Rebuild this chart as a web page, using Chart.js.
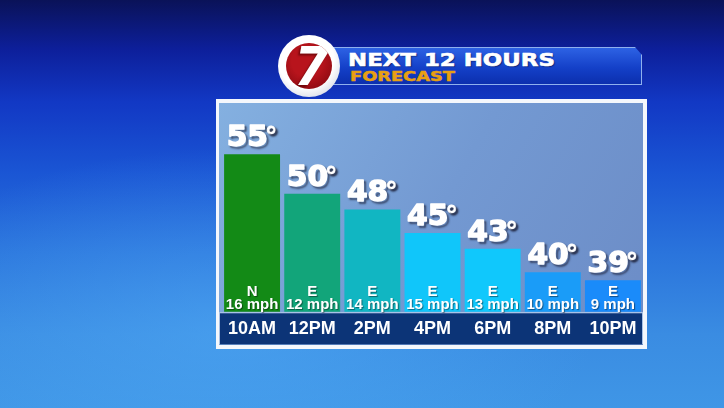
<!DOCTYPE html>
<html>
<head>
<meta charset="utf-8">
<script src="https://cdn.jsdelivr.net/npm/chart.js@4"></script>
<style>
    html, body { margin: 0; padding: 0; }
    body {
        width: 724px; height: 408px; overflow: hidden; position: relative;
        background:
            radial-gradient(ellipse 520px 260px at 230px 330px, rgba(80,170,245,0.55), rgba(80,170,245,0) 70%),
            linear-gradient(180deg, #0a1258 0%, #0d1f9a 12%, #1238c4 25%, #1a55d4 42%, #2a74dc 62%, #3a8ce2 82%, #3f96e6 100%);
    }
    #chart { position: absolute; left: 0; top: 0; }
    .banner {
        position: absolute; left: 333px; top: 47px; width: 307px; height: 36px;
        background: linear-gradient(180deg, #2d62e4 0%, #1440c8 55%, #0c2fae 100%);
        border: 1px solid #8fb0ee;
        clip-path: polygon(0 0, 302px 0, 309px 8px, 309px 100%, 0 100%);
    }
    .title {
        position: absolute; left: 348px; top: 51px; font: bold 18px "DejaVu Sans";
        line-height: 18px; color: #fff; transform: scaleX(1.27); transform-origin: left top;
        white-space: nowrap; text-shadow: 1px 1px 1px rgba(0,0,40,0.5);
        -webkit-text-stroke: 0.6px #fff;
    }
    .subtitle {
        position: absolute; left: 350px; top: 69px; font: bold 14px "DejaVu Sans";
        line-height: 14px; color: #e8a012; transform: scaleX(1.27); transform-origin: left top;
        white-space: nowrap; -webkit-text-stroke: 0.5px #e8a012;
    }
    .logo {
        position: absolute; left: 278px; top: 35px; width: 62px; height: 62px; border-radius: 50%;
        background: radial-gradient(circle at 45% 40%, #ffffff 55%, #d8dce6 80%, #aab2c4 100%);
    }
    .logo .red {
        position: absolute; left: 8px; top: 8px; width: 46px; height: 46px; border-radius: 50%;
        background: radial-gradient(circle at 45% 40%, #b8141c 40%, #8e0a12 80%, #6e060c 100%);
        overflow: hidden;
    }
    .logo .seven {
        position: absolute; left: 7px; top: -3px; font: italic bold 54px "DejaVu Sans";
        color: #fff; line-height: 54px; transform: scaleX(0.95);
        text-shadow: -2px 2px 2px rgba(80,0,0,0.6);
    }
</style>
</head>
<body>
<div class="banner"></div>
<div class="title">NEXT 12 HOURS</div>
<div class="subtitle">FORECAST</div>
<div class="logo"><div class="red"><div class="seven">7</div></div></div>
<canvas id="chart" width="724" height="408"></canvas>
<script>
// Datos del pronóstico
const horas = ['10AM', '12PM', '2PM', '4PM', '6PM', '8PM', '10PM'];
const temperaturas = [55, 50, 48, 45, 43, 40, 39];
const vientoDir = ['N', 'E', 'E', 'E', 'E', 'E', 'E'];
const vientoMph = [16, 12, 14, 15, 13, 10, 9];
const colores = ['#138a16', '#12a57a', '#11b6c2', '#10c6fa', '#10c8fc', '#1a9cf8', '#1a8bfa'];

// Marco del panel y banda de horas
const panelPlugin = {
    id: 'panel',
    beforeDraw(chart) {
        const ctx = chart.ctx;
        const area = chart.chartArea;
        ctx.save();
        ctx.fillStyle = '#f4f7fc';
        ctx.fillRect(216, 99, 431, 250);
        const g = ctx.createLinearGradient(219, 103, 643, 345);
        g.addColorStop(0, '#84b0e0');
        g.addColorStop(0.5, '#7399d2');
        g.addColorStop(1, '#6c8cc6');
        ctx.fillStyle = g;
        ctx.fillRect(219, 103, 424, 242);
        // banda inferior
        ctx.fillStyle = '#a9c2e6';
        ctx.fillRect(219, area.bottom + 0.3, 424, 32);
        ctx.fillStyle = '#0c3477';
        ctx.fillRect(220, area.bottom + 1.6, 422, 31);
        ctx.restore();
    }
};

// Etiquetas de temperatura y viento
const labelsPlugin = {
    id: 'etiquetas',
    afterDatasetsDraw(chart) {
        const ctx = chart.ctx;
        const bottom = chart.chartArea.bottom;
        const meta = chart.getDatasetMeta(0);
        ctx.save();
        ctx.textBaseline = 'alphabetic';
        meta.data.forEach((bar, i) => {
            // temperatura: número grueso y grado
            const num = String(temperaturas[i]);
            ctx.font = 'bold 28px "DejaVu Sans"';
            const wNum = ctx.measureText(num).width * 1.06;
            ctx.font = 'bold 25px "DejaVu Sans"';
            const wDeg = ctx.measureText('°').width;
            const x0 = bar.x - (wNum + wDeg - 3) / 2;
            ctx.textAlign = 'left';
            ctx.fillStyle = '#ffffff';
            ctx.strokeStyle = '#ffffff';
            ctx.lineJoin = 'round';
            ctx.shadowColor = 'rgba(20,20,40,0.8)';
            ctx.shadowOffsetX = 2;
            ctx.shadowOffsetY = 2;
            ctx.shadowBlur = 2;
            ctx.save();
            ctx.translate(x0, bar.y - 8);
            ctx.scale(1.06, 1);
            ctx.font = 'bold 28px "DejaVu Sans"';
            ctx.lineWidth = 1.4;
            ctx.strokeText(num, 0, 0);
            ctx.shadowColor = 'transparent';
            ctx.fillText(num, 0, 0);
            ctx.restore();
            ctx.font = 'bold 25px "DejaVu Sans"';
            ctx.lineWidth = 0.8;
            ctx.strokeText('°', x0 + wNum - 3, bar.y - 9);
            ctx.fillText('°', x0 + wNum - 3, bar.y - 9);

            // viento
            ctx.textAlign = 'center';
            ctx.shadowOffsetX = 1;
            ctx.shadowOffsetY = 1;
            ctx.shadowBlur = 1;
            ctx.shadowColor = 'rgba(0,0,0,0.45)';
            ctx.font = 'bold 15px "Liberation Sans"';
            ctx.fillText(vientoDir[i], bar.x, bottom - 15.5);
            ctx.fillText(vientoMph[i] + ' mph', bar.x, bottom - 3.2);
        });
        ctx.restore();
    }
};

new Chart(document.getElementById('chart'), {
    type: 'bar',
    data: {
        labels: horas,
        datasets: [{
            data: temperaturas,
            backgroundColor: colores,
            borderWidth: 0,
            barPercentage: 0.93,
            categoryPercentage: 1.0
        }]
    },
    options: {
        responsive: false,
        animation: false,
        layout: { padding: { left: 222, right: 81, top: 104, bottom: 62.3 } },
        plugins: { legend: { display: false }, tooltip: { enabled: false } },
        scales: {
            x: {
                grid: { display: false, drawTicks: false },
                border: { display: false },
                afterFit: (s) => { s.height = 34; },
                ticks: {
                    color: '#ffffff',
                    font: { family: 'Liberation Sans', size: 18, weight: 'bold' },
                    padding: 6.5,
                    maxRotation: 0,
                    autoSkip: false
                }
            },
            y: {
                display: false,
                min: 35,
                max: 61.4
            }
        }
    },
    plugins: [panelPlugin, labelsPlugin]
});
</script>
</body>
</html>
